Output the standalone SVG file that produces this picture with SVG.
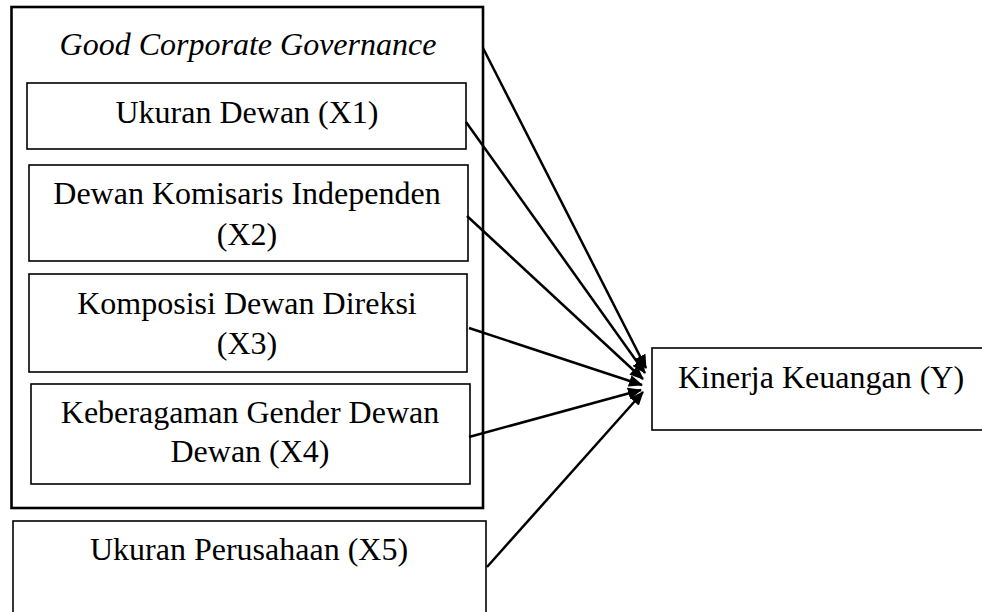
<svg xmlns="http://www.w3.org/2000/svg" width="982" height="612" viewBox="0 0 982 612">
<defs>
<style>
.box{fill:#fff;stroke:#000;stroke-width:1.6}
.outer{fill:#fff;stroke:#000;stroke-width:2.6}
.t{font-family:"Liberation Serif","Times New Roman",serif;font-size:32px;fill:#000;text-anchor:middle}
.it{font-style:italic}
.conn{stroke:#000;stroke-width:2.5;fill:none;marker-end:url(#ah)}
</style>
<marker id="ah" viewBox="0 0 14 12" refX="13" refY="6" markerWidth="14" markerHeight="12" markerUnits="userSpaceOnUse" orient="auto">
<path d="M0,0 L14,6 L0,12 Z" fill="#000"/>
</marker>
</defs>
<rect width="982" height="612" fill="#fff"/>
<g id="gcg">
<rect class="outer" x="11.5" y="7" width="471.5" height="501"/>
<text class="t it" x="248" y="55">Good Corporate Governance</text>
</g>
<g id="x1">
<rect class="box" x="27" y="83" width="439" height="66"/>
<text class="t" x="247" y="123">Ukuran Dewan (X1)</text>
</g>
<g id="x2">
<rect class="box" x="29" y="165" width="439" height="96"/>
<text class="t" x="247" y="204">Dewan Komisaris Independen</text>
<text class="t" x="247" y="245">(X2)</text>
</g>
<g id="x3">
<rect class="box" x="29" y="274" width="438" height="98"/>
<text class="t" x="247" y="314">Komposisi Dewan Direksi</text>
<text class="t" x="247" y="354">(X3)</text>
</g>
<g id="x4">
<rect class="box" x="31" y="384" width="439" height="100"/>
<text class="t" x="250" y="423">Keberagaman Gender Dewan</text>
<text class="t" x="250" y="462">Dewan (X4)</text>
</g>
<g id="x5">
<rect class="box" x="13" y="521" width="473" height="110"/>
<text class="t" x="249" y="560">Ukuran Perusahaan (X5)</text>
</g>
<g id="y">
<rect class="box" x="652" y="348" width="360" height="82"/>
<text class="t" x="821" y="388">Kinerja Keuangan (Y)</text>
</g>
<g id="connectors">
<line class="conn" x1="483" y1="48" x2="646" y2="368"/>
<line class="conn" x1="466" y1="122" x2="645" y2="373"/>
<line class="conn" x1="467" y1="216" x2="643" y2="379"/>
<line class="conn" x1="469" y1="328" x2="642" y2="385"/>
<line class="conn" x1="469" y1="437" x2="641" y2="390"/>
<line class="conn" x1="487" y1="567" x2="643" y2="392"/>
</g>
</svg>
